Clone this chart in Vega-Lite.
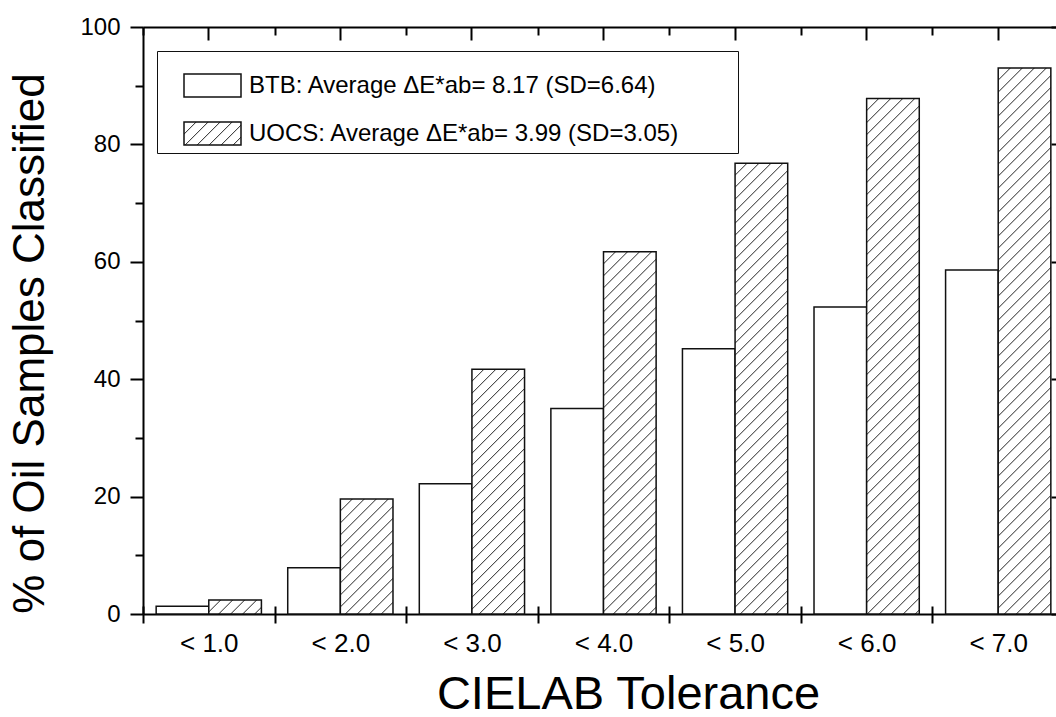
{
  "$schema": "https://vega.github.io/schema/vega-lite/v6.json",
  "width": 913,
  "height": 587,
  "autosize": {"type": "none"},
  "padding": {"left": 143, "top": 27, "right": 0, "bottom": 103},
  "params": [
    {"name": "hs", "value": [
      {"offset": 0, "color": "#fff"},
      {"offset": 0.0182, "color": "#fff"}, {"offset": 0.02, "color": "#333"}, {"offset": 0.0218, "color": "#fff"},
      {"offset": 0.0382, "color": "#fff"}, {"offset": 0.04, "color": "#333"}, {"offset": 0.0418, "color": "#fff"},
      {"offset": 0.0582, "color": "#fff"}, {"offset": 0.06, "color": "#333"}, {"offset": 0.0618, "color": "#fff"},
      {"offset": 0.0782, "color": "#fff"}, {"offset": 0.08, "color": "#333"}, {"offset": 0.0818, "color": "#fff"},
      {"offset": 0.0982, "color": "#fff"}, {"offset": 0.1, "color": "#333"}, {"offset": 0.1018, "color": "#fff"},
      {"offset": 0.1182, "color": "#fff"}, {"offset": 0.12, "color": "#333"}, {"offset": 0.1218, "color": "#fff"},
      {"offset": 0.1382, "color": "#fff"}, {"offset": 0.14, "color": "#333"}, {"offset": 0.1418, "color": "#fff"},
      {"offset": 0.1582, "color": "#fff"}, {"offset": 0.16, "color": "#333"}, {"offset": 0.1618, "color": "#fff"},
      {"offset": 0.1782, "color": "#fff"}, {"offset": 0.18, "color": "#333"}, {"offset": 0.1818, "color": "#fff"},
      {"offset": 0.1982, "color": "#fff"}, {"offset": 0.2, "color": "#333"}, {"offset": 0.2018, "color": "#fff"},
      {"offset": 0.2182, "color": "#fff"}, {"offset": 0.22, "color": "#333"}, {"offset": 0.2218, "color": "#fff"},
      {"offset": 0.2382, "color": "#fff"}, {"offset": 0.24, "color": "#333"}, {"offset": 0.2418, "color": "#fff"},
      {"offset": 0.2582, "color": "#fff"}, {"offset": 0.26, "color": "#333"}, {"offset": 0.2618, "color": "#fff"},
      {"offset": 0.2782, "color": "#fff"}, {"offset": 0.28, "color": "#333"}, {"offset": 0.2818, "color": "#fff"},
      {"offset": 0.2982, "color": "#fff"}, {"offset": 0.3, "color": "#333"}, {"offset": 0.3018, "color": "#fff"},
      {"offset": 0.3182, "color": "#fff"}, {"offset": 0.32, "color": "#333"}, {"offset": 0.3218, "color": "#fff"},
      {"offset": 0.3382, "color": "#fff"}, {"offset": 0.34, "color": "#333"}, {"offset": 0.3418, "color": "#fff"},
      {"offset": 0.3582, "color": "#fff"}, {"offset": 0.36, "color": "#333"}, {"offset": 0.3618, "color": "#fff"},
      {"offset": 0.3782, "color": "#fff"}, {"offset": 0.38, "color": "#333"}, {"offset": 0.3818, "color": "#fff"},
      {"offset": 0.3982, "color": "#fff"}, {"offset": 0.4, "color": "#333"}, {"offset": 0.4018, "color": "#fff"},
      {"offset": 0.4182, "color": "#fff"}, {"offset": 0.42, "color": "#333"}, {"offset": 0.4218, "color": "#fff"},
      {"offset": 0.4382, "color": "#fff"}, {"offset": 0.44, "color": "#333"}, {"offset": 0.4418, "color": "#fff"},
      {"offset": 0.4582, "color": "#fff"}, {"offset": 0.46, "color": "#333"}, {"offset": 0.4618, "color": "#fff"},
      {"offset": 0.4782, "color": "#fff"}, {"offset": 0.48, "color": "#333"}, {"offset": 0.4818, "color": "#fff"},
      {"offset": 0.4982, "color": "#fff"}, {"offset": 0.5, "color": "#333"}, {"offset": 0.5018, "color": "#fff"},
      {"offset": 0.5182, "color": "#fff"}, {"offset": 0.52, "color": "#333"}, {"offset": 0.5218, "color": "#fff"},
      {"offset": 0.5382, "color": "#fff"}, {"offset": 0.54, "color": "#333"}, {"offset": 0.5418, "color": "#fff"},
      {"offset": 0.5582, "color": "#fff"}, {"offset": 0.56, "color": "#333"}, {"offset": 0.5618, "color": "#fff"},
      {"offset": 0.5782, "color": "#fff"}, {"offset": 0.58, "color": "#333"}, {"offset": 0.5818, "color": "#fff"},
      {"offset": 0.5982, "color": "#fff"}, {"offset": 0.6, "color": "#333"}, {"offset": 0.6018, "color": "#fff"},
      {"offset": 0.6182, "color": "#fff"}, {"offset": 0.62, "color": "#333"}, {"offset": 0.6218, "color": "#fff"},
      {"offset": 0.6382, "color": "#fff"}, {"offset": 0.64, "color": "#333"}, {"offset": 0.6418, "color": "#fff"},
      {"offset": 0.6582, "color": "#fff"}, {"offset": 0.66, "color": "#333"}, {"offset": 0.6618, "color": "#fff"},
      {"offset": 0.6782, "color": "#fff"}, {"offset": 0.68, "color": "#333"}, {"offset": 0.6818, "color": "#fff"},
      {"offset": 0.6982, "color": "#fff"}, {"offset": 0.7, "color": "#333"}, {"offset": 0.7018, "color": "#fff"},
      {"offset": 0.7182, "color": "#fff"}, {"offset": 0.72, "color": "#333"}, {"offset": 0.7218, "color": "#fff"},
      {"offset": 0.7382, "color": "#fff"}, {"offset": 0.74, "color": "#333"}, {"offset": 0.7418, "color": "#fff"},
      {"offset": 0.7582, "color": "#fff"}, {"offset": 0.76, "color": "#333"}, {"offset": 0.7618, "color": "#fff"},
      {"offset": 0.7782, "color": "#fff"}, {"offset": 0.78, "color": "#333"}, {"offset": 0.7818, "color": "#fff"},
      {"offset": 0.7982, "color": "#fff"}, {"offset": 0.8, "color": "#333"}, {"offset": 0.8018, "color": "#fff"},
      {"offset": 0.8182, "color": "#fff"}, {"offset": 0.82, "color": "#333"}, {"offset": 0.8218, "color": "#fff"},
      {"offset": 0.8382, "color": "#fff"}, {"offset": 0.84, "color": "#333"}, {"offset": 0.8418, "color": "#fff"},
      {"offset": 0.8582, "color": "#fff"}, {"offset": 0.86, "color": "#333"}, {"offset": 0.8618, "color": "#fff"},
      {"offset": 0.8782, "color": "#fff"}, {"offset": 0.88, "color": "#333"}, {"offset": 0.8818, "color": "#fff"},
      {"offset": 0.8982, "color": "#fff"}, {"offset": 0.9, "color": "#333"}, {"offset": 0.9018, "color": "#fff"},
      {"offset": 0.9182, "color": "#fff"}, {"offset": 0.92, "color": "#333"}, {"offset": 0.9218, "color": "#fff"},
      {"offset": 0.9382, "color": "#fff"}, {"offset": 0.94, "color": "#333"}, {"offset": 0.9418, "color": "#fff"},
      {"offset": 0.9582, "color": "#fff"}, {"offset": 0.96, "color": "#333"}, {"offset": 0.9618, "color": "#fff"},
      {"offset": 0.9782, "color": "#fff"}, {"offset": 0.98, "color": "#333"}, {"offset": 0.9818, "color": "#fff"},
      {"offset": 1, "color": "#fff"}
    ]}
  ],
  "data": {"values": [
    {"tol": "< 1.0", "series": "BTB", "pct": 1.3},
    {"tol": "< 1.0", "series": "UOCS", "pct": 2.4},
    {"tol": "< 2.0", "series": "BTB", "pct": 7.9},
    {"tol": "< 2.0", "series": "UOCS", "pct": 19.6},
    {"tol": "< 3.0", "series": "BTB", "pct": 22.2},
    {"tol": "< 3.0", "series": "UOCS", "pct": 41.7},
    {"tol": "< 4.0", "series": "BTB", "pct": 35.0},
    {"tol": "< 4.0", "series": "UOCS", "pct": 61.7},
    {"tol": "< 5.0", "series": "BTB", "pct": 45.2},
    {"tol": "< 5.0", "series": "UOCS", "pct": 76.8},
    {"tol": "< 6.0", "series": "BTB", "pct": 52.3},
    {"tol": "< 6.0", "series": "UOCS", "pct": 87.8},
    {"tol": "< 7.0", "series": "BTB", "pct": 58.6},
    {"tol": "< 7.0", "series": "UOCS", "pct": 93.0}
  ]},
  "config": {
    "view": {"stroke": null},
    "font": "Liberation Sans",
    "axis": {
      "domainColor": "#000", "domainWidth": 2, "tickColor": "#000", "tickWidth": 2,
      "labelColor": "#000", "titleColor": "#000", "labelFont": "Liberation Sans",
      "titleFont": "Liberation Sans", "grid": false
    }
  },
  "resolve": {"axis": {"x": "independent", "y": "independent"}},
  "layer": [
    {
      "mark": {
        "type": "bar",
        "strokeWidth": 1.5,
        "fill": {"expr": "(datum.series || datum.value) === 'BTB' ? '#ffffff' : (datum.pct == null ? {gradient: 'linear', x1: 0, y1: 0, x2: 9.074, y2: 3.63, stops: hs} : {gradient: 'linear', x1: 0, y1: 0, x2: bandwidth('xOffset') * 600 / (pow(bandwidth('xOffset'), 2) + pow(scale('y', 0) - scale('y', datum.pct), 2)), y2: (scale('y', 0) - scale('y', datum.pct)) * 600 / (pow(bandwidth('xOffset'), 2) + pow(scale('y', 0) - scale('y', datum.pct), 2)), stops: hs})"}
      },
      "encoding": {
        "x": {
          "field": "tol", "type": "nominal", "sort": null,
          "scale": {"range": [0, 921], "paddingInner": 0, "paddingOuter": 0},
          "axis": {
            "orient": "bottom", "tickBand": "extent", "tickSize": 9,
            "labelFontSize": 26, "labelPadding": 7, "labelAngle": 0,
            "title": "CIELAB Tolerance", "titleFontSize": 47, "titleFontWeight": "normal",
            "titlePadding": 15, "titleX": 485
          }
        },
        "xOffset": {"field": "series", "type": "nominal", "scale": {"paddingInner": 0, "paddingOuter": 0.25}},
        "y": {
          "field": "pct", "type": "quantitative", "stack": null,
          "scale": {"domain": [0, 100], "nice": false},
          "axis": {
            "orient": "left",
            "values": [0, 10, 20, 30, 40, 50, 60, 70, 80, 90, 100],
            "labelExpr": "datum.value % 20 === 0 ? datum.label : ''",
            "tickSize": {"condition": {"test": "datum.value % 20 !== 0", "value": 8}, "value": 13},
            "labelFontSize": 24, "labelPadding": 10,
            "title": "% of Oil Samples Classified", "titleFontSize": 44, "titleFontWeight": "normal",
            "titlePadding": 27, "titleY": 316
          }
        },
        "stroke": {
          "field": "series", "type": "nominal",
          "scale": {"range": ["#111111", "#111111"]},
          "legend": {
            "title": null, "orient": "none", "legendX": 14, "legendY": 24,
            "strokeColor": "#111111", "padding": 5, "symbolOffset": 21, "labelOffset": 7, "rowPadding": 4,
            "symbolType": "M-1,-0.4H1V0.4H-1Z", "symbolSize": 3249, "symbolStrokeWidth": 1.5,
            "labelFont": "Liberation Sans", "labelFontSize": 24, "labelColor": "#000", "labelLimit": 0,
            "labelExpr": "datum.value === 'BTB' ? 'BTB: Average ΔE*ab= 8.17 (SD=6.64)' : 'UOCS: Average ΔE*ab= 3.99 (SD=3.05)\u2003\u2003\u2009\u200b'",
            "encode": {
              "legend": {"update": {"strokeWidth": {"value": 1.5}}},
              "symbols": {"update": {
                "fill": {"signal": "datum.value === 'BTB' ? '#ffffff' : {gradient: 'linear', x1: 0, y1: 0, x2: 9.074, y2: 3.63, stops: hs}"},
                "stroke": {"value": "#111111"}
              }}
            }
          }
        }
      }
    },
    {
      "mark": {"type": "bar", "opacity": 0},
      "encoding": {
        "x": {"field": "tol", "type": "nominal", "sort": null,
          "axis": {"orient": "top", "labels": false, "title": null, "tickSize": -13}},
        "y": {"field": "pct", "type": "quantitative", "stack": null,
          "axis": {"orient": "right", "offset": 8, "labels": false, "title": null,
            "values": [0, 10, 20, 30, 40, 50, 60, 70, 80, 90, 100],
            "tickSize": {"condition": {"test": "datum.value % 20 !== 0", "value": -8}, "value": -13}}}
      }
    },
    {
      "mark": {"type": "bar", "opacity": 0},
      "encoding": {
        "x": {"field": "tol", "type": "nominal", "sort": null,
          "axis": {"orient": "top", "tickBand": "extent", "labels": false, "domain": false, "title": null, "tickSize": -8}},
        "y": {"field": "pct", "type": "quantitative", "stack": null, "axis": null}
      }
    },
    {
      "mark": {"type": "bar", "opacity": 0},
      "encoding": {
        "x": {"field": "tol", "type": "nominal", "sort": null,
          "axis": {"orient": "bottom", "tickBand": "extent", "labels": false, "domain": false, "title": null, "tickSize": -8}},
        "y": {"field": "pct", "type": "quantitative", "stack": null, "axis": null}
      }
    }
  ]
}
